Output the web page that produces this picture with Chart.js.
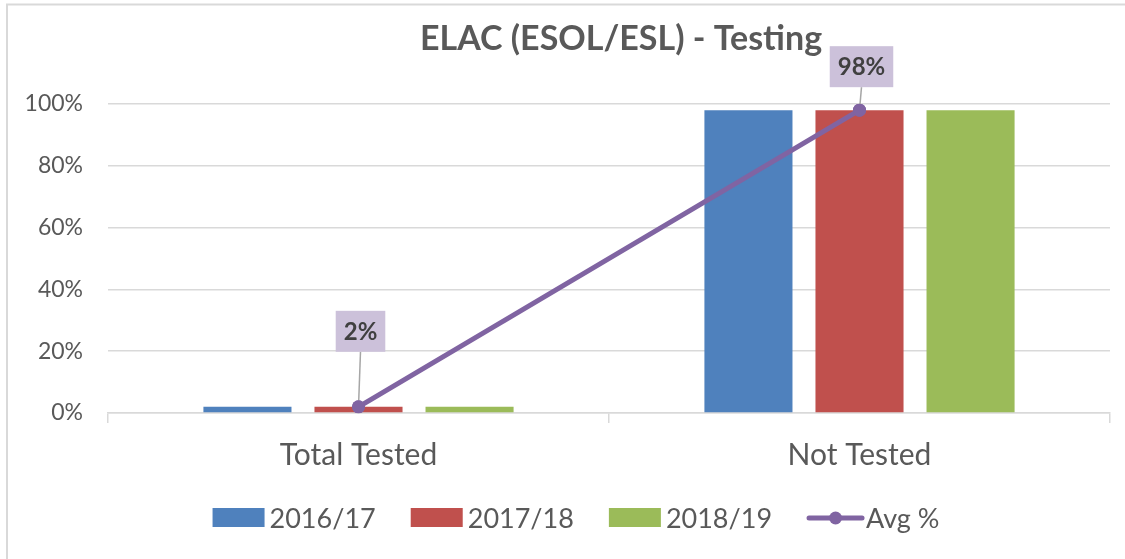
<!DOCTYPE html>
<html>
<head>
<meta charset="utf-8">
<script src="https://cdn.jsdelivr.net/npm/chart.js@4"></script>
<style>
  html, body { margin: 0; padding: 0; background: #fff; }
  #wrap { width: 1125px; height: 559px; position: relative; }
</style>
</head>
<body>
<div id="wrap"><canvas id="chart" width="1125" height="559"></canvas></div>
<script>
// --- datos ---
const categories = ['Total Tested', 'Not Tested'];
const seriesNames = ['2016/17', '2017/18', '2018/19'];
const values1617 = [0.02, 0.98];
const values1718 = [0.02, 0.98];
const values1819 = [0.02, 0.98];
const avgValues = [0.02, 0.98];
const yTicks = [0, 0.2, 0.4, 0.6, 0.8, 1.0];

// estilos
const colors = ['#4F81BD', '#C0504D', '#9BBB59'];
const avgColor = '#8064A2';
const labelLift = [55, 23]; // distancia del punto a la etiqueta
const FONT = 'Lato, "Open Sans", sans-serif';

// borde del área del gráfico
const borderPlugin = {
    id: 'marco',
    beforeDraw(chart) {
        const ctx = chart.ctx;
        ctx.save();
        ctx.fillStyle = '#fff';
        ctx.fillRect(0, 0, chart.width, chart.height);
        ctx.strokeStyle = '#D9D9D9';
        ctx.lineWidth = 2;
        ctx.strokeRect(7, 4.5, chart.width + 20, chart.height + 20);
        ctx.restore();
    }
};

// titulo
const titlePlugin = {
    id: 'titulo',
    afterDraw(chart) {
        const ctx = chart.ctx;
        ctx.save();
        ctx.font = 'bold 34px ' + FONT;
        ctx.fillStyle = '#595959';
        ctx.textAlign = 'center';
        ctx.textBaseline = 'alphabetic';
        ctx.fillText('ELAC (ESOL/ESL) - Testing', 621, 50);
        ctx.restore();
    }
};

// etiquetas de la línea promedio
const avgLabelsPlugin = {
    id: 'etiquetasAvg',
    afterDatasetsDraw(chart) {
        const ctx = chart.ctx;
        const meta = chart.getDatasetMeta(0);
        ctx.save();
        ctx.font = 'bold 24px ' + FONT;
        meta.data.forEach((pt, i) => {
            const txt = Math.round(avgValues[i] * 100) + '%';
            const w = ctx.measureText(txt).width + 16;
            const h = 41;
            const bottom = pt.y - labelLift[i];
            // línea guía
            ctx.strokeStyle = '#A6A6A6';
            ctx.lineWidth = 1.5;
            ctx.beginPath();
            ctx.moveTo(pt.x + 2, bottom);
            ctx.lineTo(pt.x, pt.y);
            ctx.stroke();
            ctx.fillStyle = '#CCC1DA';
            ctx.fillRect(pt.x + 2 - w / 2, bottom - h, w, h);
            ctx.fillStyle = '#404040';
            ctx.textAlign = 'center';
            ctx.textBaseline = 'middle';
            ctx.fillText(txt, pt.x + 2, bottom - h / 2 + 1);
        });
        // redibujar el punto encima de la guía
        meta.data.forEach(pt => {
            ctx.fillStyle = avgColor;
            ctx.beginPath();
            ctx.arc(pt.x, pt.y, 6.5, 0, Math.PI * 2);
            ctx.fill();
        });
        ctx.restore();
    }
};

// leyenda
const legendPlugin = {
    id: 'leyenda',
    afterDraw(chart) {
        const ctx = chart.ctx;
        ctx.save();
        ctx.font = '27px ' + FONT;
        const items = seriesNames.map((n, i) => ({ text: n, color: colors[i], line: false, sym: 52, gap: 5 }));
        items.push({ text: 'Avg %', color: avgColor, line: true, sym: 57, gap: 2 });
        const itemGap = 35;
        let total = 0;
        items.forEach(it => { it.w = it.sym + it.gap + ctx.measureText(it.text).width; total += it.w; });
        total += itemGap * (items.length - 1);
        let x = 576 - total / 2;
        const cy = 518;
        items.forEach(it => {
            if (it.line) {
                ctx.strokeStyle = it.color;
                ctx.lineWidth = 5;
                ctx.lineCap = 'round';
                ctx.beginPath();
                ctx.moveTo(x + 2, cy);
                ctx.lineTo(x + it.sym - 2, cy);
                ctx.stroke();
                ctx.fillStyle = it.color;
                ctx.beginPath();
                ctx.arc(x + it.sym / 2, cy, 6.5, 0, Math.PI * 2);
                ctx.fill();
            } else {
                ctx.fillStyle = it.color;
                ctx.fillRect(x, cy - 10, it.sym, 19);
            }
            ctx.fillStyle = '#595959';
            ctx.textAlign = 'left';
            ctx.textBaseline = 'middle';
            ctx.fillText(it.text, x + it.sym + it.gap, cy + 1);
            x += it.w + itemGap;
        });
        ctx.restore();
    }
};

const barDefaults = { categoryPercentage: 0.665, barPercentage: 0.793, order: 1 };

new Chart(document.getElementById('chart'), {
    type: 'bar',
    data: {
        labels: categories,
        datasets: [
            {
                type: 'line', label: 'Avg %', data: avgValues,
                borderColor: avgColor, backgroundColor: avgColor,
                borderWidth: 5, pointRadius: 6.5, pointHoverRadius: 6.5,
                pointBackgroundColor: avgColor, pointBorderWidth: 0,
                tension: 0, order: 0
            },
            Object.assign({ label: seriesNames[0], data: values1617, backgroundColor: colors[0] }, barDefaults),
            Object.assign({ label: seriesNames[1], data: values1718, backgroundColor: colors[1] }, barDefaults),
            Object.assign({ label: seriesNames[2], data: values1819, backgroundColor: colors[2] }, barDefaults)
        ]
    },
    options: {
        responsive: false,
        animation: false,
        layout: { padding: { left: 0, right: 15, top: 104, bottom: 82 } },
        plugins: {
            legend: { display: false },
            title: { display: false },
            tooltip: { enabled: false }
        },
        scales: {
            x: {
                offset: true,
                grid: { offset: true, drawOnChartArea: false, drawTicks: true, tickLength: 10, color: '#D9D9D9', lineWidth: 1.5 },
                border: { display: true, color: '#D9D9D9', width: 1.5 },
                ticks: { color: '#595959', font: { family: FONT, size: 30 }, padding: 14 },
                afterFit(scale) { scale.height = 64; }
            },
            y: {
                min: 0, max: 1,
                afterBuildTicks(scale) { scale.ticks = yTicks.map(v => ({ value: v })); },
                grid: { color: '#D9D9D9', lineWidth: 1.5, drawTicks: false },
                border: { display: false },
                ticks: {
                    color: '#595959', font: { family: FONT, size: 23 }, padding: 25,
                    callback: v => Math.round(v * 100) + '%'
                },
                afterFit(scale) { scale.width = 108; }
            }
        }
    },
    plugins: [borderPlugin, titlePlugin, avgLabelsPlugin, legendPlugin]
});
</script>
</body>
</html>
